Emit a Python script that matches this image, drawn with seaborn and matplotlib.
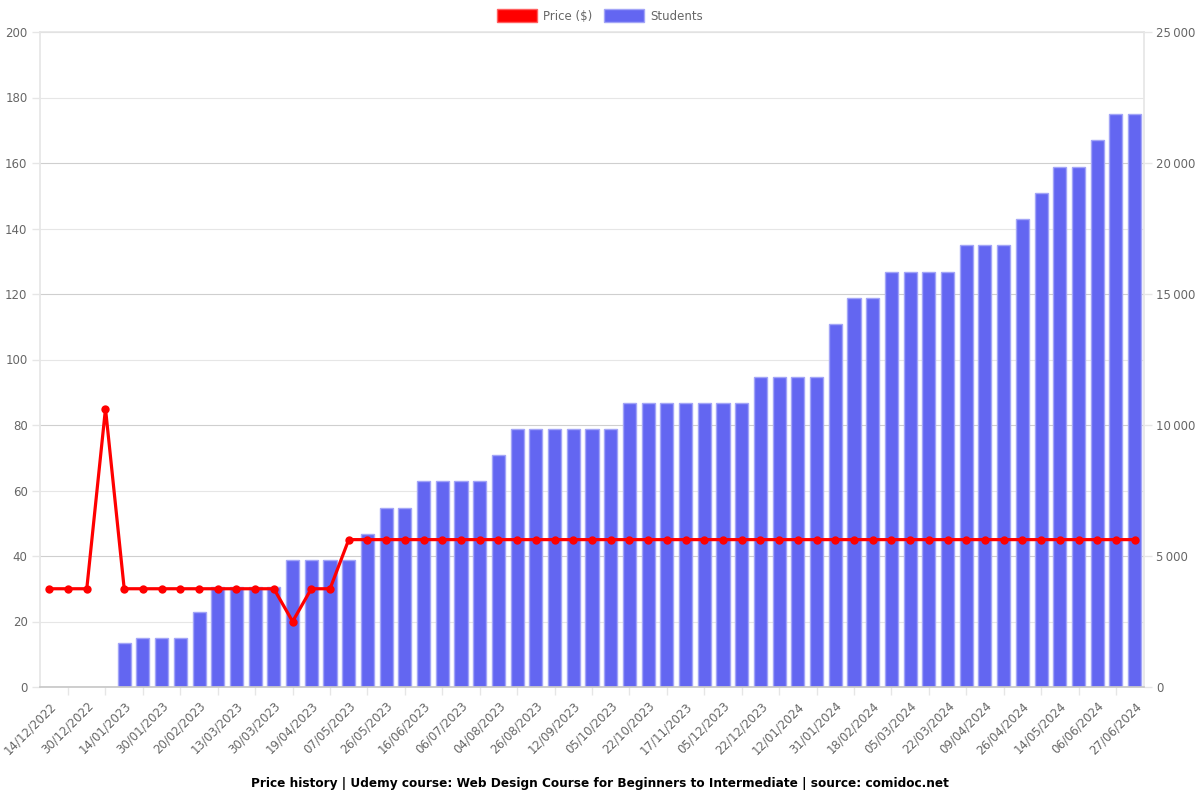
import numpy as np
import pandas as pd
import matplotlib
matplotlib.use("Agg")
import matplotlib.pyplot as plt
from matplotlib.patches import Patch
from matplotlib.ticker import FixedLocator, MultipleLocator, FuncFormatter
import seaborn as sns

# ---------------- data ----------------
price = [30, 30, 30, 85, 30, 30, 30, 30, 30, 30, 30, 30, 30, 20, 30, 30,
         45, 45, 45, 45, 45, 45, 45, 45, 45, 45, 45, 45, 45, 45, 45, 45,
         45, 45, 45, 45, 45, 45, 45, 45, 45, 45, 45, 45, 45, 45, 45, 45,
         45, 45, 45, 45, 45, 45, 45, 45, 45, 45, 45]

students = [np.nan, np.nan, np.nan, np.nan,
            1670, 1860, 1860, 1860, 2850, 3830, 3830, 3830, 3830,
            4850, 4850, 4850, 4850, 5840, 6850, 6850,
            7850, 7850, 7850, 7850, 8850,
            9850, 9850, 9850, 9850, 9850, 9850,
            10850, 10850, 10850, 10850, 10850, 10850, 10850,
            11850, 11850, 11850, 11850, 13840, 14850, 14850,
            15850, 15850, 15850, 15850, 16860, 16860, 16860,
            17860, 18850, 19860, 19860, 20860, 21860, 21860]

tick_labels = ["14/12/2022", "30/12/2022", "14/01/2023", "30/01/2023", "20/02/2023",
               "13/03/2023", "30/03/2023", "19/04/2023", "07/05/2023", "26/05/2023",
               "16/06/2023", "06/07/2023", "04/08/2023", "26/08/2023", "12/09/2023",
               "05/10/2023", "22/10/2023", "17/11/2023", "05/12/2023", "22/12/2023",
               "12/01/2024", "31/01/2024", "18/02/2024", "05/03/2024", "22/03/2024",
               "09/04/2024", "26/04/2024", "14/05/2024", "06/06/2024", "27/06/2024"]

title = ("Price history | Udemy course: Web Design Course for Beginners to "
         "Intermediate | source: comidoc.net")

# ---------------- styling ----------------
sns.set_theme(style="white")
plt.rcParams["font.family"] = ["DejaVu Sans"]
plt.rcParams["grid.alpha"] = 1.0

RED = "#ff0000"
BLUE = "#6366f1"
BLUE_EDGE = "#a3a5f7"
TXT = "#666666"
GRID_LIGHT = "#e6e6e6"
GRID_DARK = "#cfcfcf"

n = len(price)
pos = np.arange(n)
df = pd.DataFrame({"pos": pos, "price": price, "students": students})

fig = plt.figure(figsize=(12, 8), dpi=100)
ax = fig.add_axes([40 / 1200, 1 - 687 / 800, (1144 - 40) / 1200, (687 - 32) / 800])
ax2 = ax.twinx()

# bars (students, right axis)
bars_df = df.dropna(subset=["students"])
sns.barplot(data=bars_df, x="pos", y="students", ax=ax2, native_scale=True,
            color=BLUE, saturation=1, width=0.7, edgecolor=BLUE_EDGE,
            linewidth=1, zorder=2)

# line (price, left axis) on top
ax.set_zorder(ax2.get_zorder() + 1)
ax.patch.set_visible(False)
sns.lineplot(data=df, x="pos", y="price", ax=ax, color=RED, linewidth=2.3,
             marker="o", markersize=6, markeredgewidth=0, sort=False)
for ln in ax.lines:
    ln.set_solid_joinstyle("miter")

# limits
ax.set_xlim(-0.5, n - 0.5)
ax2.set_xlim(-0.5, n - 0.5)
ax.set_ylim(0, 200)
ax2.set_ylim(0, 25000)

# left axis ticks
ax.yaxis.set_major_locator(MultipleLocator(20))
ax.tick_params(axis="y", which="major", length=6, width=1, color=GRID_LIGHT,
               labelcolor=TXT, labelsize=8.5, pad=3, left=True)

# right axis ticks
ax2.yaxis.set_major_locator(MultipleLocator(5000))
ax2.yaxis.set_minor_locator(MultipleLocator(2500))
ax2.yaxis.set_major_formatter(FuncFormatter(
    lambda v, p: f"{int(v):,}".replace(",", "\u2009")))
ax2.tick_params(axis="y", which="major", length=6, width=1, color=GRID_LIGHT,
                labelcolor=TXT, labelsize=8.5, pad=3, right=True)
ax2.tick_params(axis="y", which="minor", length=0)

# x ticks: labels on even positions, grid/tick marks on odd positions
label_pos = pos[::2]
grid_pos = pos[1::2]
for a in (ax, ax2):
    a.set_xlabel("")
    a.set_ylabel("")
ax.xaxis.set_major_locator(FixedLocator(label_pos))
ax.set_xticklabels(tick_labels, rotation=45, ha="right", rotation_mode="anchor",
                   color=TXT, fontsize=8.5)
ax.xaxis.set_minor_locator(FixedLocator(grid_pos))
ax.tick_params(axis="x", which="major", length=0, pad=9)
ax.tick_params(axis="x", which="minor", length=6, width=1, color=GRID_LIGHT,
               bottom=True)
ax2.tick_params(axis="x", which="both", length=0, labelbottom=False)

# grid drawn on the lower (bar) axes so it stays behind bars
ax2.set_axisbelow(True)
ax2.xaxis.set_minor_locator(FixedLocator(grid_pos))
ax2.grid(False)
ax2.grid(axis="y", which="major", color=GRID_DARK, linewidth=0.8, alpha=1)
ax2.grid(axis="y", which="minor", color=GRID_LIGHT, linewidth=0.8, alpha=1)
ax2.grid(axis="x", which="minor", color=GRID_LIGHT, linewidth=0.8, alpha=1)
ax.grid(False)

# spines
for a in (ax, ax2):
    for s in a.spines.values():
        s.set_visible(False)
ax.spines["left"].set_visible(True)
ax.spines["left"].set_color(GRID_LIGHT)
ax.spines["bottom"].set_visible(True)
ax.spines["bottom"].set_color("#c8c8c8")
ax2.spines["right"].set_visible(True)
ax2.spines["right"].set_color(GRID_LIGHT)
ax2.spines["top"].set_visible(True)
ax2.spines["top"].set_color(GRID_LIGHT)

# legend
handles = [Patch(facecolor=RED, edgecolor="#ff6060", label="Price ($)"),
           Patch(facecolor=BLUE, edgecolor=BLUE_EDGE, label="Students")]
fig.legend(handles=handles, loc="center", bbox_to_anchor=(0.5, 1 - 16 / 800),
           ncol=2, frameon=False, fontsize=8.5, handlelength=3.4,
           handleheight=1.3, columnspacing=1.0, handletextpad=0.5,
           labelcolor=TXT)

fig.text(0.5, 1 - 783 / 800, title, ha="center", va="center",
         fontsize=8.7, fontweight="bold", color="black")

fig.savefig("out.png", dpi=100)
